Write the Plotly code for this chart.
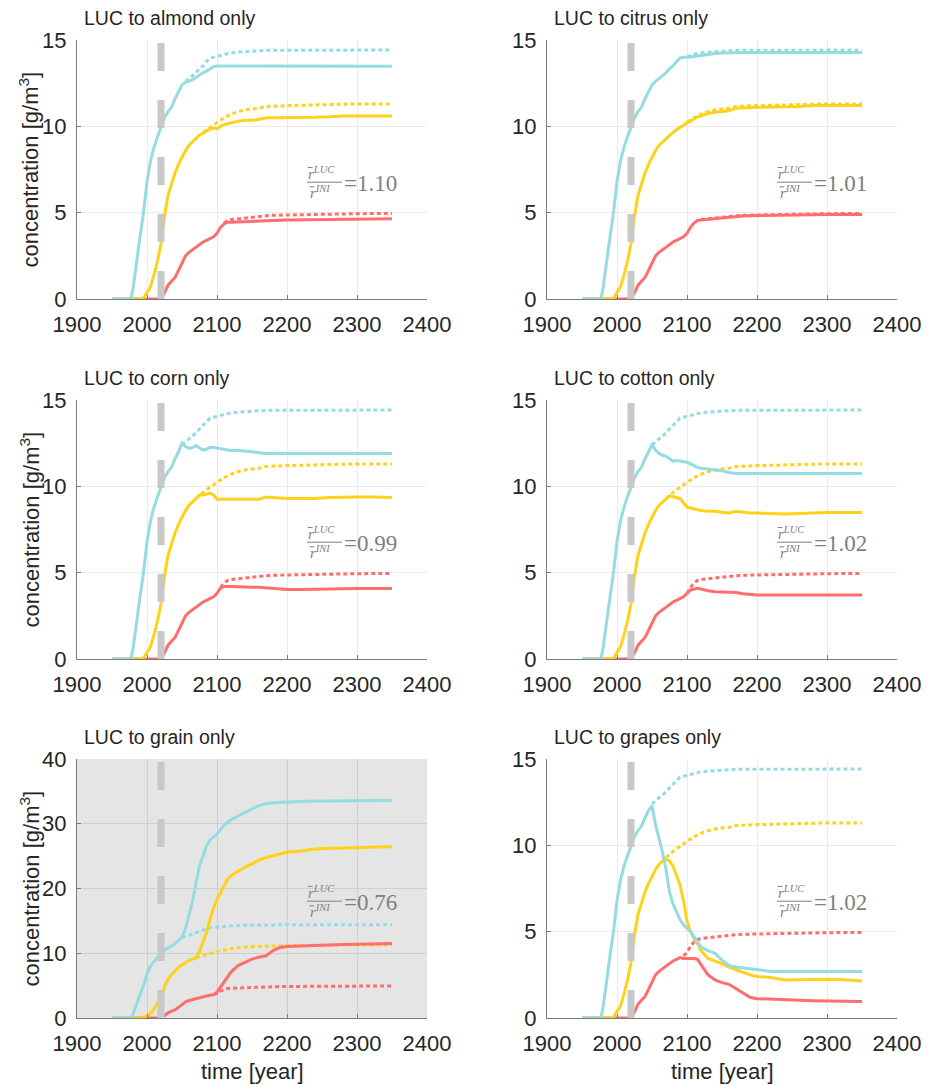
import plotly.graph_objects as go

# ---------------- data ----------------
YEARS = [1950, 1960, 1970, 1977, 1980, 1985, 1990, 1995, 2000, 2005, 2010, 2015,
         2020, 2025, 2030, 2035, 2040, 2045,
         2050, 2055, 2060, 2065, 2070, 2075, 2080, 2085, 2090, 2095, 2100, 2105, 2110, 2115, 2120,
         2130, 2140, 2150, 2160, 2170, 2180, 2190, 2200,
         2220, 2240, 2260, 2280, 2300, 2325, 2350]

# initial (no LUC) scenario, dotted
BASE_CYAN = [0, 0, 0, 0, 0.6, 2.2, 3.6, 5.0, 6.8, 8.0, 8.8, 9.4,
             10.0, 10.5, 10.85, 11.1, 11.6, 12.0,
             12.4, 12.6, 12.75, 12.9, 13.1, 13.35, 13.5, 13.75, 13.95, 14.0, 14.05, 14.12, 14.18, 14.22, 14.26,
             14.3, 14.33, 14.36, 14.38, 14.4, 14.4, 14.4, 14.4,
             14.41, 14.41, 14.42, 14.42, 14.42, 14.42, 14.42]
BASE_YELLOW = [0, 0, 0, 0, 0, 0, 0, 0.05, 0.35, 0.7, 1.4, 2.2,
               3.2, 4.8, 6.0, 6.7, 7.3, 7.8,
               8.2, 8.6, 8.9, 9.1, 9.3, 9.5, 9.65, 9.8, 9.95, 10.1, 10.25, 10.4, 10.5, 10.6, 10.7,
               10.85, 10.95, 11.0, 11.05, 11.15, 11.18, 11.2, 11.2,
               11.22, 11.25, 11.28, 11.3, 11.3, 11.3, 11.3]
BASE_RED = [0, 0, 0, 0, 0, 0, 0, 0, 0, 0, 0, 0,
            0.05, 0.35, 0.8, 1.05, 1.25, 1.65,
            2.1, 2.5, 2.7, 2.85, 3.0, 3.2, 3.3, 3.4, 3.5, 3.6, 3.8, 4.15, 4.4, 4.55, 4.6,
            4.65, 4.7, 4.75, 4.8, 4.82, 4.85, 4.86, 4.87,
            4.88, 4.9, 4.92, 4.93, 4.94, 4.95, 4.95]

TITLES = ["LUC to almond only", "LUC to citrus only", "LUC to corn only",
          "LUC to cotton only", "LUC to grain only", "LUC to grapes only"]
RATIOS = ["1.10", "1.01", "0.99", "1.02", "0.76", "1.02"]

# LUC scenarios: year where the curve leaves the initial one, then values from that year on
ALMOND_CYAN_FROM, ALMOND_CYAN = 2055, [12.55, 12.6, 12.7, 12.85, 12.95, 13.1, 13.2, 13.35, 13.45, 13.5, 13.5, 13.5, 13.48, 13.48,
                                       13.5, 13.5, 13.5, 13.5, 13.48, 13.48, 13.48, 13.48,
                                       13.48, 13.48, 13.48, 13.48, 13.48, 13.48, 13.48]
ALMOND_YELLOW_FROM, ALMOND_YELLOW = 2080, [9.6, 9.75, 9.85, 9.9, 9.85, 10.0, 10.1, 10.15, 10.2,
                                          10.3, 10.35, 10.35, 10.4, 10.5, 10.5, 10.5, 10.5,
                                          10.5, 10.52, 10.55, 10.6, 10.6, 10.6, 10.6]
ALMOND_RED_FROM, ALMOND_RED = 2110, [4.35, 4.45, 4.45,
                                    4.47, 4.5, 4.5, 4.52, 4.55, 4.55, 4.56, 4.57,
                                    4.58, 4.6, 4.61, 4.62, 4.63, 4.64, 4.65]

CITRUS_CYAN_FROM, CITRUS_CYAN = 2100, [14.0, 14.02, 14.05, 14.08, 14.1,
                                       14.18, 14.22, 14.25, 14.27, 14.28, 14.28, 14.28, 14.28,
                                       14.28, 14.28, 14.28, 14.28, 14.28, 14.28, 14.28]
CITRUS_YELLOW_FROM, CITRUS_YELLOW = 2100, [10.2, 10.3, 10.45, 10.55, 10.6,
                                           10.75, 10.82, 10.85, 10.9, 11.05, 11.08, 11.1, 11.1,
                                           11.12, 11.13, 11.15, 11.2, 11.2, 11.2, 11.2]
CITRUS_RED_FROM, CITRUS_RED = 2120, [4.58,
                                     4.62, 4.67, 4.7, 4.75, 4.77, 4.8, 4.82, 4.83,
                                     4.85, 4.86, 4.88, 4.89, 4.9, 4.9, 4.9]

CORN_CYAN_FROM, CORN_CYAN = 2050, [12.5, 12.3, 12.2, 12.25, 12.35, 12.2, 12.1, 12.15, 12.25, 12.25, 12.22, 12.2, 12.15, 12.1, 12.07,
                                   12.07, 12.05, 12.0, 11.95, 11.9, 11.9, 11.9, 11.9,
                                   11.9, 11.9, 11.9, 11.9, 11.9, 11.9, 11.9]
CORN_YELLOW_FROM, CORN_YELLOW = 2070, [9.35, 9.5, 9.5, 9.55, 9.6, 9.5, 9.25, 9.25, 9.25, 9.25, 9.25,
                                       9.25, 9.25, 9.25, 9.25, 9.38, 9.35, 9.3, 9.3,
                                       9.3, 9.3, 9.35, 9.38, 9.38, 9.38, 9.36]
CORN_RED_FROM, CORN_RED = 2105, [4.1, 4.2, 4.22, 4.2,
                                 4.18, 4.15, 4.15, 4.15, 4.12, 4.05, 4.03, 4.03,
                                 4.03, 4.05, 4.07, 4.08, 4.08, 4.08, 4.08]

COTTON_CYAN_FROM, COTTON_CYAN = 2050, [12.4, 12.1, 11.9, 11.8, 11.75, 11.6, 11.45, 11.5, 11.48, 11.45, 11.4, 11.3, 11.2, 11.1, 11.05,
                                       11.02, 10.95, 10.9, 10.8, 10.75, 10.75, 10.75, 10.75,
                                       10.75, 10.75, 10.75, 10.75, 10.75, 10.75, 10.75]
COTTON_YELLOW_FROM, COTTON_YELLOW = 2070, [9.3, 9.45, 9.4, 9.35, 9.3, 9.05, 8.8, 8.75, 8.7, 8.65, 8.6,
                                           8.55, 8.55, 8.5, 8.45, 8.55, 8.5, 8.45, 8.45,
                                           8.42, 8.4, 8.42, 8.47, 8.48, 8.48, 8.48]
COTTON_RED_FROM, COTTON_RED = 2100, [3.8, 4.0, 4.05, 4.1, 4.05,
                                     3.95, 3.9, 3.88, 3.88, 3.85, 3.78, 3.72, 3.7,
                                     3.7, 3.7, 3.7, 3.7, 3.7, 3.7, 3.7]

GRAIN_CYAN_FROM, GRAIN_CYAN = 2050, [12.45, 13.8, 15.9, 18.0, 20.8, 23.5, 25.0, 26.6, 27.5, 28.0, 28.4, 29.1, 29.8, 30.2, 30.6,
                                     31.2, 31.8, 32.3, 32.8, 33.1, 33.25, 33.3, 33.4,
                                     33.45, 33.5, 33.5, 33.55, 33.55, 33.6, 33.6]
GRAIN_YELLOW_FROM, GRAIN_YELLOW = 2070, [9.3, 10.3, 11.6, 13.2, 15.2, 17.0, 18.3, 19.4, 20.5, 21.4, 22.0,
                                         22.7, 23.3, 23.8, 24.4, 24.8, 25.1, 25.4, 25.6,
                                         25.8, 26.1, 26.2, 26.3, 26.3, 26.4, 26.45]
GRAIN_RED_FROM, GRAIN_RED = 2095, [3.6, 4.0, 4.8, 5.7, 6.5, 7.1,
                                   8.1, 8.6, 9.1, 9.4, 9.6, 10.4, 10.9, 11.05,
                                   11.15, 11.25, 11.3, 11.35, 11.4, 11.45, 11.5]

GRAPES_CYAN_FROM, GRAPES_CYAN = 2050, [12.3, 11.2, 10.4, 9.6, 8.6, 7.3, 6.6, 6.1, 5.7, 5.4, 5.2, 5.0, 4.7, 4.4, 4.1,
                                       3.9, 3.75, 3.35, 3.05, 2.95, 2.9, 2.85, 2.8,
                                       2.7, 2.7, 2.7, 2.7, 2.7, 2.7, 2.7]
GRAPES_YELLOW_FROM, GRAPES_YELLOW = 2070, [9.2, 9.1, 8.8, 8.3, 7.7, 6.8, 5.6, 5.0, 4.6, 4.3, 3.9,
                                           3.45, 3.3, 3.15, 2.95, 2.8, 2.65, 2.5, 2.4,
                                           2.35, 2.2, 2.22, 2.25, 2.25, 2.22, 2.15]
GRAPES_RED_FROM, GRAPES_RED = 2095, [3.45, 3.45, 3.45, 3.45, 3.4, 3.1,
                                     2.5, 2.2, 2.05, 1.95, 1.7, 1.4, 1.2, 1.12,
                                     1.08, 1.05, 1.0, 1.0, 0.98, 0.97, 0.95]

PANELS = [
    [(ALMOND_RED_FROM, ALMOND_RED), (ALMOND_YELLOW_FROM, ALMOND_YELLOW), (ALMOND_CYAN_FROM, ALMOND_CYAN)],
    [(CITRUS_RED_FROM, CITRUS_RED), (CITRUS_YELLOW_FROM, CITRUS_YELLOW), (CITRUS_CYAN_FROM, CITRUS_CYAN)],
    [(CORN_RED_FROM, CORN_RED), (CORN_YELLOW_FROM, CORN_YELLOW), (CORN_CYAN_FROM, CORN_CYAN)],
    [(COTTON_RED_FROM, COTTON_RED), (COTTON_YELLOW_FROM, COTTON_YELLOW), (COTTON_CYAN_FROM, COTTON_CYAN)],
    [(GRAIN_RED_FROM, GRAIN_RED), (GRAIN_YELLOW_FROM, GRAIN_YELLOW), (GRAIN_CYAN_FROM, GRAIN_CYAN)],
    [(GRAPES_RED_FROM, GRAPES_RED), (GRAPES_YELLOW_FROM, GRAPES_YELLOW), (GRAPES_CYAN_FROM, GRAPES_CYAN)],
]
BASES = [BASE_RED, BASE_YELLOW, BASE_CYAN]
Y_MAX = [15, 15, 15, 15, 40, 15]
Y_DTICK = [5, 5, 5, 5, 10, 5]
LUC_YEAR = 2020

# ---------------- style ----------------
COLORS = ["#ff6e6e", "#ffd21a", "#95dbe2"]
W, H = 935, 1085
OFF = 8  # the page body has an 8px margin; positions below are screen positions
COLS = [(77 - OFF, 427 - OFF), (547 - OFF, 897 - OFF)]
ROWS = [(40 - OFF, 299 - OFF), (400 - OFF, 659 - OFF), (759 - OFF, 1018 - OFF)]
FONT = "Liberation Sans, Arial, Helvetica, sans-serif"
SERIF = "Liberation Serif, Times New Roman, serif"
TXT = "#262626"
AXC = "#7a7a7a"
GRAY = "#808080"

fig = go.Figure()
layout = dict(width=W, height=H, autosize=False, margin=dict(l=0, r=0, t=0, b=0, autoexpand=False),
              paper_bgcolor="white", plot_bgcolor="white", showlegend=False,
              font=dict(family=FONT, color=TXT))
annotations = []
shapes = []

for i in range(6):
    r, c = divmod(i, 2)
    sfx = "" if i == 0 else str(i + 1)
    xa, ya = "x" + sfx, "y" + sfx
    (xl, xr), (yt, yb) = COLS[c], ROWS[r]
    grid = "#cfcfcf" if i == 4 else "#ebebeb"
    common = dict(showgrid=True, gridcolor=grid, gridwidth=1, zeroline=False,
                  showline=True, linecolor=AXC, linewidth=1,
                  ticks="inside", ticklen=4, tickcolor=AXC,
                  tickfont=dict(size=22, color=TXT, family=FONT),
                  automargin=False, fixedrange=True)
    layout["xaxis" + sfx] = dict(domain=[xl / W, xr / W], anchor=ya, range=[1900, 2400],
                                 tickvals=[1900, 2000, 2100, 2200, 2300, 2400],
                                 ticklabelstandoff=6, **common)
    layout["yaxis" + sfx] = dict(domain=[1 - yb / H, 1 - yt / H], anchor=xa, range=[0, Y_MAX[i]],
                                 dtick=Y_DTICK[i], tick0=0, ticklabelstandoff=5, **common)
    if i == 4:
        shapes.append(dict(type="rect", xref=xa + " domain", yref=ya + " domain",
                           x0=0, x1=1, y0=0, y1=1, fillcolor="#e5e5e5", line_width=0, layer="below"))

    # dotted initial-scenario curves
    for (frm, vals), base, col in zip(PANELS[i], BASES, COLORS):
        k = YEARS.index(frm)
        fig.add_trace(go.Scatter(x=YEARS[k:], y=base[k:], mode="lines", xaxis=xa, yaxis=ya,
                                 line=dict(color=col, width=3, dash="4px,3px"), hoverinfo="skip"))
    # solid LUC curves
    for (frm, vals), base, col in zip(PANELS[i], BASES, COLORS):
        k = YEARS.index(frm)
        fig.add_trace(go.Scatter(x=YEARS, y=base[:k] + vals, mode="lines", xaxis=xa, yaxis=ya,
                                 line=dict(color=col, width=3), hoverinfo="skip"))

    # vertical LUC start line
    shapes.append(dict(type="line", xref=xa, yref=ya + " domain", x0=LUC_YEAR, x1=LUC_YEAR, y0=0, y1=1,
                       line=dict(color="#c8c8c8", width=7, dash="28px,29px"), layer="above"))

    # panel title
    annotations.append(dict(text=TITLES[i], xref="paper", yref="paper", x=(xl + 6) / W, y=1 - (yt - 22) / H,
                            xanchor="left", yanchor="middle", showarrow=False, borderpad=0,
                            font=dict(size=19.5, color=TXT, family=FONT)))
    # ratio annotation  (r-bar^LUC / r-bar^INI = value)
    annotations.append(dict(text="<i>r</i><sup><i>LUC</i></sup>", xref=xa + " domain", yref=ya + " domain",
                            x=0.655, y=0.487, xanchor="left", yanchor="middle", showarrow=False,
                            font=dict(size=15, color=GRAY, family=SERIF)))
    annotations.append(dict(text="<i>r</i><sup><i>INI</i></sup>", xref=xa + " domain", yref=ya + " domain",
                            x=0.660, y=0.412, xanchor="left", yanchor="middle", showarrow=False,
                            font=dict(size=15, color=GRAY, family=SERIF)))
    # macrons over r, and fraction bar
    shapes.append(dict(type="line", xref=xa + " domain", yref=ya + " domain",
                       x0=0.659, x1=0.673, y0=0.508, y1=0.508, line=dict(color=GRAY, width=1)))
    shapes.append(dict(type="line", xref=xa + " domain", yref=ya + " domain",
                       x0=0.664, x1=0.678, y0=0.433, y1=0.433, line=dict(color=GRAY, width=1)))
    shapes.append(dict(type="line", xref=xa + " domain", yref=ya + " domain",
                       x0=0.657, x1=0.757, y0=0.451, y1=0.451, line=dict(color=GRAY, width=1)))
    annotations.append(dict(text="=" + RATIOS[i], xref=xa + " domain", yref=ya + " domain",
                            x=0.756, y=0.446, xanchor="left", yanchor="middle", showarrow=False,
                            font=dict(size=23, color=GRAY, family=SERIF)))

    if c == 0:
        annotations.append(dict(text="concentration [g/m<sup>3</sup>]", xref="paper", yref="paper",
                                x=(29 - OFF) / W, y=1 - (yt + yb) / 2 / H, xanchor="center", yanchor="middle",
                                textangle=-90, showarrow=False, font=dict(size=22, color=TXT, family=FONT)))
    if r == 2:
        annotations.append(dict(text="time [year]", xref="paper", yref="paper",
                                x=(xl + xr) / 2 / W, y=1 - (1071 - OFF) / H, xanchor="center", yanchor="middle",
                                showarrow=False, font=dict(size=22, color=TXT, family=FONT)))

layout["annotations"] = annotations
layout["shapes"] = shapes
fig.update_layout(**layout)
fig.write_html("out.html")
